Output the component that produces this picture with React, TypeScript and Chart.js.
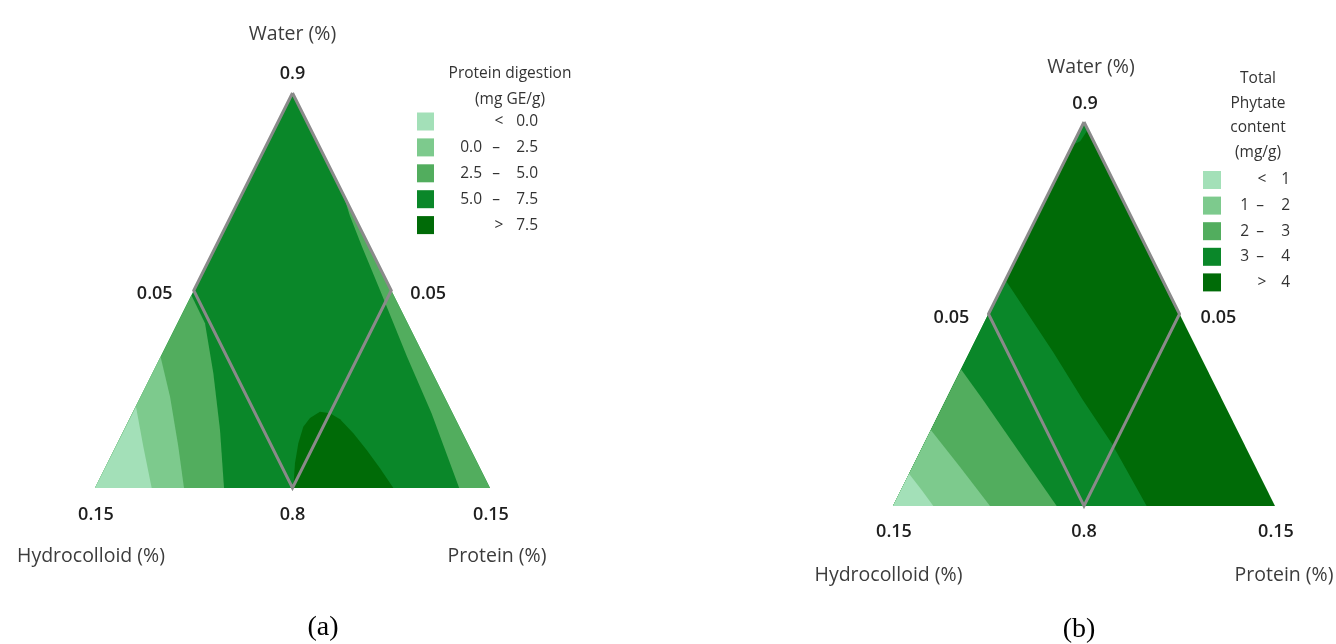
import React, { useEffect, useRef } from "react";
import { Chart, registerables } from "chart.js";
Chart.register(...registerables);

type Pt = { x: number; y: number };

// ---------- data ----------
const bandColors = ["#a3e0b8", "#7dca8d", "#52ad5e", "#0a8729", "#006b07"];
const outlineColor = "#8a8a8a";

const levelsA = [0.0, 2.5, 5.0, 7.5];
const levelsB = [1, 2, 3, 4];

const apexTick = "0.9";
const baseTicks = ["0.15", "0.8", "0.15"];
const sideTicks = ["0.05", "0.05"];
const axisTitles = ["Water (%)", "Hydrocolloid (%)", "Protein (%)"];
const legendTitleA = ["Protein digestion", "(mg GE/g)"];
const legendTitleB = ["Total", "Phytate", "content", "(mg/g)"];
const panelTags = ["(a)", "(b)"];

// simplex in (x = along base, y = height) coordinates
const simplex: Pt[] = [{ x: 0, y: 0 }, { x: 1, y: 0 }, { x: 0.5, y: 1 }];
const designRegion: Pt[] = [
  { x: 0.5, y: 1 }, { x: 0.25, y: 0.5 }, { x: 0.5, y: 0 }, { x: 0.75, y: 0.5 }, { x: 0.5, y: 1 },
];
const cornerLeft: Pt = { x: 0, y: 0 };
const cornerRight: Pt = { x: 1, y: 0 };

// (a) Protein digestion contour boundaries
const aLevel0: Pt[] = [{ x: 0.1038, y: 0.2058 }, { x: 0.1224, y: 0.1046 }, { x: 0.1435, y: 0 }];
const aLevel25: Pt[] = [{ x: 0.166, y: 0.3325 }, { x: 0.19, y: 0.231 }, { x: 0.211, y: 0.1046 }, { x: 0.2253, y: 0 }];
const aLevel50: Pt[] = [
  { x: 0.244, y: 0.488 }, { x: 0.2785, y: 0.417 }, { x: 0.2996, y: 0.2903 }, { x: 0.3165, y: 0.1468 }, { x: 0.3266, y: 0 },
];
const aLevel50Right: Pt[] = [
  { x: 0.628, y: 0.745 }, { x: 0.645, y: 0.69 }, { x: 0.676, y: 0.611 }, { x: 0.724, y: 0.495 },
  { x: 0.79, y: 0.3325 }, { x: 0.852, y: 0.189 }, { x: 0.922, y: 0 },
];
const aLevel75: Pt[] = [
  { x: 0.502, y: 0 }, { x: 0.5063, y: 0.0625 }, { x: 0.5148, y: 0.113 }, { x: 0.5274, y: 0.1553 }, { x: 0.5443, y: 0.1772 },
  { x: 0.5696, y: 0.1932 }, { x: 0.5949, y: 0.189 }, { x: 0.6203, y: 0.1738 }, { x: 0.654, y: 0.1384 }, { x: 0.6878, y: 0.0962 },
  { x: 0.7215, y: 0.0498 }, { x: 0.7553, y: 0 },
];

// (b) Total phytate contour boundaries
const bLevel1: Pt[] = [{ x: 0.042, y: 0.084 }, { x: 0.075, y: 0.0417 }, { x: 0.1056, y: 0 }];
const bLevel2: Pt[] = [{ x: 0.099, y: 0.198 }, { x: 0.175, y: 0.102 }, { x: 0.254, y: 0 }];
const bLevel3: Pt[] = [{ x: 0.178, y: 0.356 }, { x: 0.236, y: 0.276 }, { x: 0.31, y: 0.17 }, { x: 0.4285, y: 0 }];
const bLevel4: Pt[] = [{ x: 0.294, y: 0.589 }, { x: 0.42, y: 0.4 }, { x: 0.497, y: 0.276 }, { x: 0.572, y: 0.164 }, { x: 0.664, y: 0 }];
const bLevel4Tip: Pt[] = [{ x: 0.5, y: 1 }, { x: 0.47, y: 0.94 }, { x: 0.49, y: 0.95 }, { x: 0.51, y: 0.98 }];

// ---------- styling / layout ----------
const SANS = "'Open Sans', 'Noto Sans', sans-serif";
const SERIF = "'Liberation Serif', 'DejaVu Serif', serif";

type Layer = { pts: Pt[]; color: string };
type Spec = {
  key: string;
  xRange: [number, number];
  yRange: [number, number];
  layers: Layer[];
  levels: number[];
  digits: number;
  legendTitle: string[];
  legend: {
    titleX: number; titleY: number; titleStep: number; boxX: number; boxW: number; boxH: number;
    rowY: number; rowStep: number; lowRight: number; dashX: number; upRight: number; signX: number; font: number;
  };
  off: {
    apexTick: [number, number]; water: [number, number]; baseTickDy: number; titleDy: number;
    hydroDx: number; proteinDx: number; sideL: [number, number]; sideR: [number, number];
  };
  tag: string;
  tagPos: [number, number];
};

const specA: Spec = {
  key: "a",
  xRange: [-95 / 395, (668 - 95) / 395],
  yRange: [(488 - 644) / 395, 1 + 93 / 395],
  layers: [
    { pts: simplex, color: bandColors[3] },
    { pts: [cornerLeft, ...aLevel50], color: bandColors[2] },
    { pts: [cornerLeft, ...aLevel25], color: bandColors[1] },
    { pts: [cornerLeft, ...aLevel0], color: bandColors[0] },
    { pts: [...aLevel50Right, cornerRight], color: bandColors[2] },
    { pts: aLevel75, color: bandColors[4] },
  ],
  levels: levelsA,
  digits: 1,
  legendTitle: legendTitleA,
  legend: {
    titleX: 510, titleY: 74, titleStep: 26, boxX: 417, boxW: 17, boxH: 18,
    rowY: 121.5, rowStep: 25.9, lowRight: 482, dashX: 496, upRight: 538, signX: 499, font: 15.5,
  },
  off: {
    apexTick: [0, -19], water: [0, -59], baseTickDy: 27, titleDy: 68,
    hydroDx: -4, proteinDx: 7, sideL: [-39, 3.5], sideR: [37, 3.5],
  },
  tag: panelTags[0],
  tagPos: [323, 628],
};

const specB: Spec = {
  key: "b",
  xRange: [-225 / 382, (668 - 225) / 382],
  yRange: [(506 - 644) / 384, 1 + 122 / 384],
  layers: [
    { pts: simplex, color: bandColors[4] },
    { pts: [cornerLeft, ...bLevel4], color: bandColors[3] },
    { pts: [cornerLeft, ...bLevel3], color: bandColors[2] },
    { pts: [cornerLeft, ...bLevel2], color: bandColors[1] },
    { pts: [cornerLeft, ...bLevel1], color: bandColors[0] },
    { pts: bLevel4Tip, color: bandColors[3] },
  ],
  levels: levelsB,
  digits: 0,
  legendTitle: legendTitleB,
  legend: {
    titleX: 1258 - 668, titleY: 79, titleStep: 24.4, boxX: 1203 - 668, boxW: 18, boxH: 18,
    rowY: 180, rowStep: 25.6, lowRight: 1249 - 668, dashX: 1260 - 668, upRight: 1290 - 668, signX: 1262 - 668, font: 15.5,
  },
  off: {
    apexTick: [1, -18], water: [7, -55], baseTickDy: 26, titleDy: 69,
    hydroDx: -4.5, proteinDx: 9, sideL: [-37, 4], sideR: [39, 4],
  },
  tag: panelTags[1],
  tagPos: [1079 - 668, 630],
};

function makeAnnotations(spec: Spec) {
  return {
    id: "annot-" + spec.key,
    afterDatasetsDraw(chart: any) {
      const { ctx } = chart;
      const sx = chart.scales.x;
      const sy = chart.scales.y;
      const P = (p: Pt): [number, number] => [sx.getPixelForValue(p.x), sy.getPixelForValue(p.y)];
      const apex = P({ x: 0.5, y: 1 });
      const left = P({ x: 0, y: 0 });
      const right = P({ x: 1, y: 0 });
      const mid = P({ x: 0.5, y: 0 });
      const midL = P({ x: 0.25, y: 0.5 });
      const midR = P({ x: 0.75, y: 0.5 });
      const o = spec.off;
      ctx.save();
      ctx.textAlign = "center";
      ctx.textBaseline = "middle";
      // tick labels
      ctx.fillStyle = "#1e1e1e";
      ctx.font = `600 18px ${SANS}`;
      ctx.fillText(apexTick, apex[0] + o.apexTick[0], apex[1] + o.apexTick[1]);
      ctx.fillText(baseTicks[0], left[0] + 1, left[1] + o.baseTickDy);
      ctx.fillText(baseTicks[1], mid[0], mid[1] + o.baseTickDy);
      ctx.fillText(baseTicks[2], right[0] + 1, right[1] + o.baseTickDy);
      ctx.fillText(sideTicks[0], midL[0] + o.sideL[0], midL[1] + o.sideL[1]);
      ctx.fillText(sideTicks[1], midR[0] + o.sideR[0], midR[1] + o.sideR[1]);
      // axis titles
      ctx.fillStyle = "#3c3c3c";
      ctx.font = `400 19.5px ${SANS}`;
      ctx.fillText(axisTitles[0], apex[0] + o.water[0], apex[1] + o.water[1]);
      ctx.fillText(axisTitles[1], left[0] + o.hydroDx, left[1] + o.titleDy);
      ctx.fillText(axisTitles[2], right[0] + o.proteinDx, right[1] + o.titleDy);
      // legend
      const L = spec.legend;
      ctx.fillStyle = "#333";
      ctx.font = `400 ${L.font}px ${SANS}`;
      spec.legendTitle.forEach((t, i) => ctx.fillText(t, L.titleX, L.titleY + i * L.titleStep));
      const n = spec.levels.length + 1;
      for (let i = 0; i < n; i++) {
        const cy = L.rowY + i * L.rowStep;
        ctx.fillStyle = bandColors[i];
        ctx.fillRect(L.boxX, cy - L.boxH / 2, L.boxW, L.boxH);
        ctx.fillStyle = "#333";
        const fmt = (v: number) => v.toFixed(spec.digits);
        if (i === 0 || i === n - 1) {
          ctx.textAlign = "center";
          ctx.fillText(i === 0 ? "<" : ">", L.signX, cy);
          ctx.textAlign = "right";
          ctx.fillText(fmt(spec.levels[i === 0 ? 0 : n - 2]), L.upRight, cy);
        } else {
          ctx.textAlign = "right";
          ctx.fillText(fmt(spec.levels[i - 1]), L.lowRight, cy);
          ctx.textAlign = "center";
          ctx.fillText("\u2013", L.dashX, cy);
          ctx.textAlign = "right";
          ctx.fillText(fmt(spec.levels[i]), L.upRight, cy);
        }
      }
      // panel tag
      ctx.textAlign = "center";
      ctx.fillStyle = "#000";
      ctx.font = `400 28px ${SERIF}`;
      ctx.fillText(spec.tag, spec.tagPos[0], spec.tagPos[1]);
      ctx.restore();
    },
  };
}

function buildConfig(spec: Spec): any {
  const n = spec.layers.length;
  const datasets: any[] = spec.layers.map((l, i) => ({
    data: l.pts,
    fill: "shape",
    backgroundColor: l.color,
    borderColor: l.color,
    borderWidth: 0,
    pointRadius: 0,
    tension: 0,
    order: n + 1 - i,
  }));
  datasets.push({
    data: designRegion,
    fill: false,
    borderColor: outlineColor,
    borderWidth: 3,
    borderJoinStyle: "miter",
    pointRadius: 0,
    tension: 0,
    order: 0,
  });
  return {
    type: "line",
    data: { datasets },
    options: {
      animation: false,
      responsive: false,
      maintainAspectRatio: false,
      events: [],
      layout: { padding: 0 },
      plugins: { legend: { display: false }, tooltip: { enabled: false }, title: { display: false } },
      scales: {
        x: { type: "linear", display: false, min: spec.xRange[0], max: spec.xRange[1] },
        y: { type: "linear", display: false, min: spec.yRange[0], max: spec.yRange[1] },
      },
    },
    plugins: [makeAnnotations(spec)],
  };
}

export default function App() {
  const refA = useRef<HTMLCanvasElement>(null);
  const refB = useRef<HTMLCanvasElement>(null);
  useEffect(() => {
    const cA = new Chart(refA.current as HTMLCanvasElement, buildConfig(specA));
    const cB = new Chart(refB.current as HTMLCanvasElement, buildConfig(specB));
    return () => {
      cA.destroy();
      cB.destroy();
    };
  }, []);
  return (
    <div style={{ position: "absolute", left: 0, top: 0, width: 1336, height: 644, background: "#fff" }}>
      <canvas ref={refA} width={668} height={644} style={{ position: "absolute", left: 0, top: 0, width: 668, height: 644 }} />
      <canvas ref={refB} width={668} height={644} style={{ position: "absolute", left: 668, top: 0, width: 668, height: 644 }} />
    </div>
  );
}
